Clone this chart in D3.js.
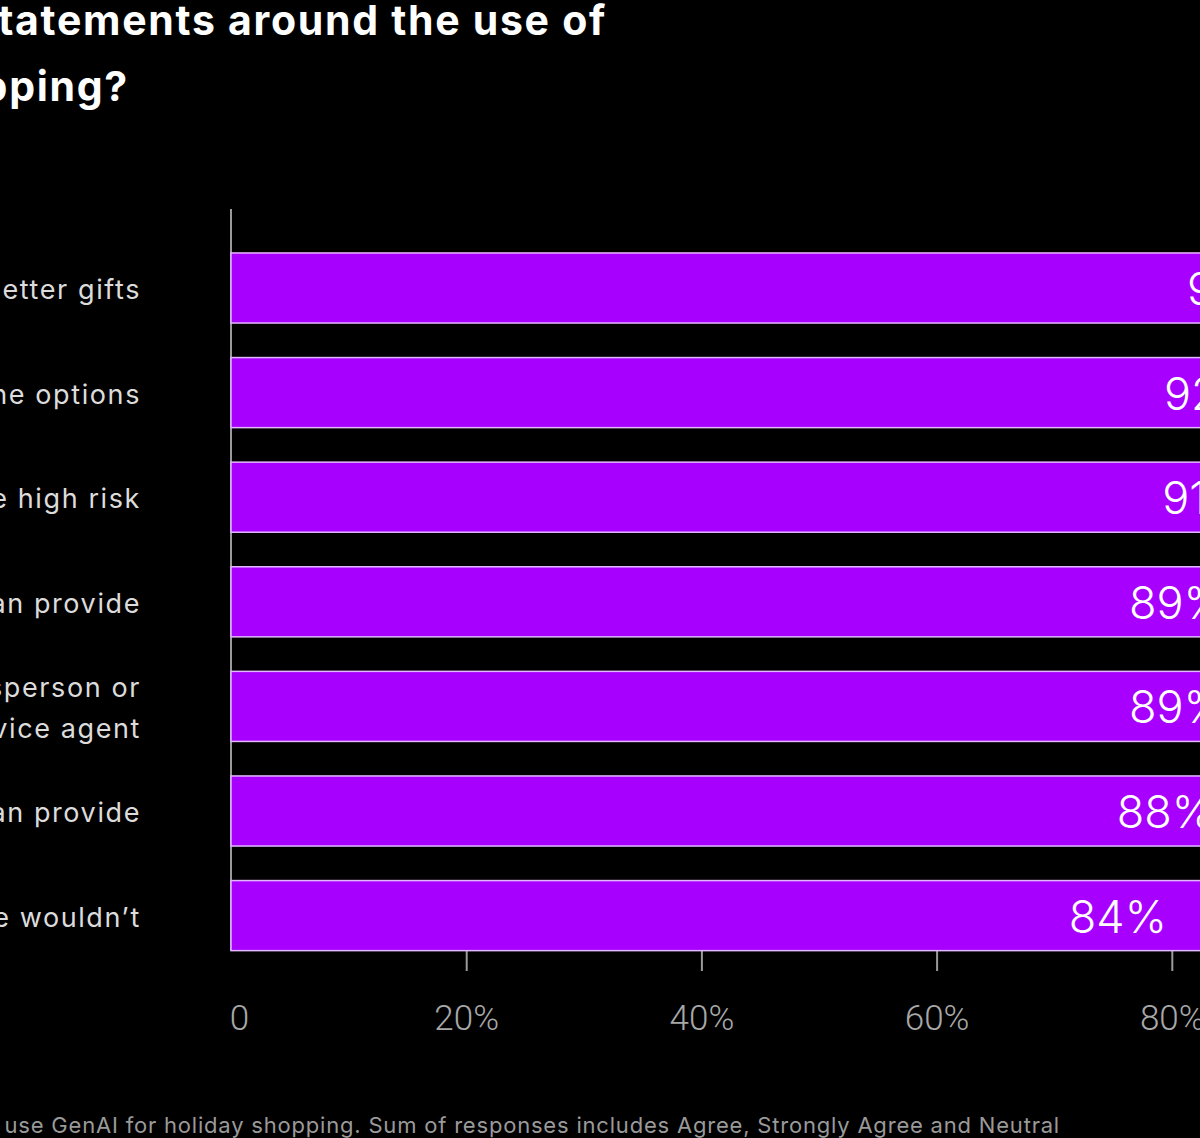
<!DOCTYPE html>
<html>
<head>
<meta charset="utf-8">
<script src="https://cdn.jsdelivr.net/npm/d3@7"></script>
<style>
  html, body { margin: 0; padding: 0; background: #000; overflow: hidden; }
  svg { display: block; }
</style>
</head>
<body>
<svg id="chart" width="1200" height="1138"></svg>
<script>
// ---- data ----
const titleLines = [
  "To what extent do you agree with the following statements around the use of",
  "GenAI for holiday shopping?"
];
const categories = [
  ["GenAI can help me find better gifts"],
  ["GenAI helps me discover more online options"],
  ["Purchases recommended by GenAI are high risk"],
  ["I trust the information GenAI can provide"],
  ["I prefer GenAI over a salesperson or", "customer service agent"],
  ["I trust the recommendations GenAI can provide"],
  ["GenAI suggests products I otherwise wouldn’t"]
];
const values = [94, 92, 91, 89, 89, 88, 84];
const tickValues = [0, 20, 40, 60, 80, 100];
const tickLabels = ["0", "20%", "40%", "60%", "80%", "100%"];
const footnote = "Base: Consumers who use GenAI for holiday shopping. Sum of responses includes Agree, Strongly Agree and Neutral";

// ---- layout ----
const svg = d3.select("#chart");
const W = 1200, H = 1138;
svg.append("rect").attr("width", W).attr("height", H).attr("fill", "#000");

const x = d3.scaleLinear().domain([0, 100]).range([231, 1407]);
const y = d3.scaleBand()
  .domain(d3.range(categories.length))
  .range([235.7, 967.9])
  .paddingInner(0.33)
  .paddingOuter(0.165);

// title
const title = svg.append("g")
  .attr("font-family", "Inter, 'Noto Sans', sans-serif")
  .attr("font-weight", 700)
  .attr("font-size", 41)
  .attr("letter-spacing", 1.7)
  .attr("fill", "#fff")
  .attr("text-anchor", "end");
title.append("text").attr("x", 607).attr("y", 35).text(titleLines[0]);
title.append("text").attr("x", 129).attr("y", 101).text(titleLines[1]);

// vertical axis line
svg.append("line")
  .attr("x1", x(0)).attr("x2", x(0))
  .attr("y1", 209).attr("y2", 951)
  .attr("stroke", "#9a9a9a").attr("stroke-width", 2);

// x axis
const xAxis = d3.axisBottom(x)
  .tickValues(tickValues)
  .tickFormat((d, i) => tickLabels[i])
  .tickSize(20)
  .tickPadding(34);
const gx = svg.append("g")
  .attr("transform", "translate(0,951)")
  .call(xAxis);
gx.select(".domain").remove();
gx.selectAll(".tick line").attr("stroke", "#9a9a9a").attr("stroke-width", 2);
gx.selectAll(".tick text")
  .attr("fill", "#a8a8a8")
  .attr("font-family", "Roboto, sans-serif")
  .attr("font-weight", 300)
  .attr("font-size", 35);
gx.selectAll(".tick").filter(d => d === 0).select("text").attr("dx", 8);
gx.selectAll(".tick").filter(d => d === 0).select("line").remove();

// bars
svg.append("g").selectAll("rect")
  .data(values)
  .join("rect")
  .attr("x", x(0))
  .attr("y", (d, i) => y(i))
  .attr("width", d => x(d) - x(0))
  .attr("height", y.bandwidth())
  .attr("fill", "#A800FF")
  .attr("stroke", "#e2b8ff")
  .attr("stroke-width", 1.5);

// value labels
svg.append("g").selectAll("text")
  .data(values)
  .join("text")
  .attr("x", d => x(d) - 52)
  .attr("y", (d, i) => y(i) + y.bandwidth() / 2 + 17)
  .attr("text-anchor", "end")
  .attr("font-family", "Inter, sans-serif")
  .attr("font-weight", 300)
  .attr("font-size", 45)
  .attr("fill", "#fff")
  .text(d => d + "%");

// category labels
const lab = svg.append("g")
  .attr("font-family", "Inter, 'Noto Sans', sans-serif")
  .attr("font-size", 27)
  .attr("letter-spacing", 1.6)
  .attr("fill", "#dcdcdc")
  .attr("text-anchor", "end");
categories.forEach((lines, i) => {
  const cy = y(i) + y.bandwidth() / 2 + 11;
  const lh = 41;
  const t = lab.append("text").attr("x", 141);
  lines.forEach((ln, j) => {
    t.append("tspan")
      .attr("x", 141)
      .attr("y", cy + (j - (lines.length - 1) / 2) * lh)
      .text(ln);
  });
});

// footnote
svg.append("text")
  .attr("x", 1060).attr("y", 1133)
  .attr("text-anchor", "end")
  .attr("font-family", "Inter, 'Noto Sans', sans-serif")
  .attr("font-size", 22)
  .attr("letter-spacing", 0.8)
  .attr("fill", "#9a9a9a")
  .text(footnote);
</script>
</body>
</html>
